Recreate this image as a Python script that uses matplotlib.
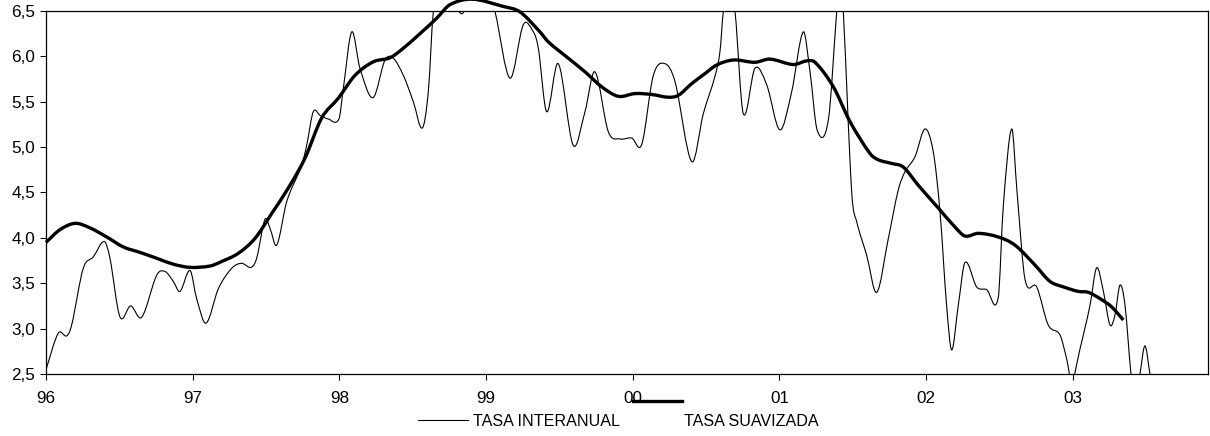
import matplotlib
matplotlib.use("Agg")
import matplotlib.pyplot as plt
from matplotlib.lines import Line2D
from matplotlib.path import Path
from matplotlib.patches import PathPatch

plt.rcParams['font.family'] = ['Liberation Sans', 'DejaVu Sans']

# x positions in years since start of 1996
interanual_x = [0.000, 0.084, 0.141, 0.175, 0.254, 0.322, 0.397, 0.436, 0.504, 0.577,
                0.652, 0.755, 0.811, 0.868, 0.913, 0.982, 1.027, 1.091, 1.175, 1.266,
                1.334, 1.397, 1.436, 1.493, 1.527, 1.573, 1.641, 1.743, 1.777, 1.822,
                1.868, 1.924, 1.997, 2.027, 2.084, 2.140, 2.229, 2.311, 2.367, 2.436,
                2.504, 2.565, 2.606, 2.640, 2.686, 2.733, 2.788, 2.834, 2.876, 2.945,
                3.013, 3.061, 3.163, 3.254, 3.322, 3.356, 3.413, 3.492, 3.594, 3.674,
                3.742, 3.833, 3.913, 3.993, 4.061, 4.140, 4.219, 4.288, 4.402, 4.481,
                4.560, 4.594, 4.617, 4.656, 4.697, 4.753, 4.833, 4.913, 5.003, 5.083,
                5.162, 5.208, 5.258, 5.333, 5.390, 5.413, 5.435, 5.492, 5.526, 5.594,
                5.663, 5.742, 5.810, 5.856, 5.924, 5.992, 6.048, 6.094, 6.139, 6.174,
                6.219, 6.265, 6.344, 6.412, 6.491, 6.526, 6.583, 6.619, 6.674, 6.753,
                6.832, 6.912, 6.957, 6.992, 7.049, 7.117, 7.162, 7.208, 7.253, 7.287,
                7.321, 7.355, 7.396, 7.423, 7.457, 7.491, 7.525, 7.553]
interanual_y = [2.55, 2.95, 2.92, 3.04, 3.665, 3.79, 3.96, 3.775, 3.13, 3.25,
                3.125, 3.59, 3.63, 3.52, 3.41, 3.64, 3.33, 3.06, 3.44, 3.665,
                3.72, 3.675, 3.775, 4.205, 4.105, 3.92, 4.40, 4.80, 5.02, 5.39,
                5.35, 5.31, 5.31, 5.65, 6.27, 5.87, 5.545, 5.96, 5.98, 5.79,
                5.50, 5.21, 5.61, 6.49, 6.90, 7.00, 6.60, 6.47, 6.60, 6.90,
                6.70, 6.49, 5.76, 6.35, 6.27, 6.09, 5.39, 5.92, 5.02, 5.39,
                5.83, 5.17, 5.09, 5.10, 5.03, 5.79, 5.92, 5.72, 4.84, 5.37,
                5.78, 6.05, 6.49, 6.80, 6.49, 5.37, 5.87, 5.685, 5.19, 5.61,
                6.27, 5.83, 5.18, 5.30, 6.49, 6.90, 6.49, 4.51, 4.18, 3.81,
                3.40, 3.995, 4.53, 4.73, 4.895, 5.20, 4.95, 4.29, 3.26, 2.765,
                3.26, 3.73, 3.46, 3.43, 3.34, 4.36, 5.20, 4.51, 3.54, 3.46,
                3.04, 2.93, 2.67, 2.42, 2.78, 3.26, 3.67, 3.41, 3.04, 3.15,
                3.48, 3.26, 2.50, 2.20, 2.50, 2.81, 2.50, 2.20]

suavizada_x = [0.000, 0.095, 0.198, 0.300, 0.414, 0.527, 0.641, 0.755, 0.868, 0.982,
               1.118, 1.198, 1.311, 1.425, 1.539, 1.652, 1.766, 1.879, 1.993, 2.106,
               2.231, 2.345, 2.436, 2.549, 2.663, 2.754, 2.904, 3.117, 3.231, 3.367,
               3.424, 3.560, 3.674, 3.788, 3.901, 4.015, 4.129, 4.242, 4.310, 4.402,
               4.492, 4.572, 4.685, 4.833, 4.935, 5.094, 5.185, 5.242, 5.367, 5.481,
               5.617, 5.674, 5.765, 5.844, 5.946, 6.082, 6.196, 6.265, 6.355, 6.491,
               6.605, 6.742, 6.844, 6.935, 7.037, 7.105, 7.185, 7.264, 7.344]
suavizada_y = [3.95, 4.09, 4.16, 4.11, 4.01, 3.90, 3.84, 3.775, 3.71, 3.675,
               3.69, 3.74, 3.83, 3.995, 4.27, 4.55, 4.88, 5.32, 5.54, 5.79,
               5.94, 5.985, 6.09, 6.25, 6.42, 6.57, 6.63, 6.55, 6.49, 6.27,
               6.16, 5.98, 5.83, 5.665, 5.56, 5.59, 5.58, 5.55, 5.57, 5.70,
               5.81, 5.905, 5.96, 5.935, 5.97, 5.91, 5.95, 5.935, 5.665, 5.28,
               4.93, 4.86, 4.82, 4.78, 4.58, 4.33, 4.12, 4.02, 4.05, 4.01,
               3.92, 3.70, 3.52, 3.46, 3.41, 3.40, 3.33, 3.24, 3.095]

year_ticks = [0, 1, 2, 3, 4, 5, 6, 7]
year_labels = ['96', '97', '98', '99', '00', '01', '02', '03']
y_ticks = [2.5, 3.0, 3.5, 4.0, 4.5, 5.0, 5.5, 6.0, 6.5]
y_labels = ['2,5', '3,0', '3,5', '4,0', '4,5', '5,0', '5,5', '6,0', '6,5']
legend_labels = ['TASA INTERANUAL', 'TASA SUAVIZADA']


def smooth_path(xs, ys):
    """Smoothed line (like a spreadsheet 'smoothed line') through the data points."""
    n = len(xs)
    slopes = []
    for i in range(n):
        a = max(i - 1, 0)
        b = min(i + 1, n - 1)
        slopes.append((ys[b] - ys[a]) / (xs[b] - xs[a]))
    verts = [(xs[0], ys[0])]
    codes = [Path.MOVETO]
    for i in range(n - 1):
        h = xs[i + 1] - xs[i]
        verts.append((xs[i] + h / 3, ys[i] + slopes[i] * h / 3))
        verts.append((xs[i + 1] - h / 3, ys[i + 1] - slopes[i + 1] * h / 3))
        verts.append((xs[i + 1], ys[i + 1]))
        codes += [Path.CURVE4] * 3
    return Path(verts, codes)


W, H = 1210, 436
fig = plt.figure(figsize=(W / 100, H / 100), dpi=100)
ax = fig.add_axes([46 / W, 62 / H, 1162 / W, 363 / H])

ax.add_patch(PathPatch(smooth_path(interanual_x, interanual_y), fill=False,
                       edgecolor='black', lw=0.8))
ax.add_patch(PathPatch(smooth_path(suavizada_x, suavizada_y), fill=False,
                       edgecolor='black', lw=2.4, clip_on=False, joinstyle='round',
                       capstyle='butt'))

ax.set_xlim(0, 7.921)
ax.set_ylim(2.5, 6.5)
ax.set_xticks(year_ticks)
ax.set_xticklabels(year_labels)
ax.set_yticks(y_ticks)
ax.set_yticklabels(y_labels)
ax.tick_params(axis='both', direction='out', length=4.5, width=0.75,
               labelsize=12.3, colors='black')
ax.tick_params(axis='x', pad=7.5)
ax.tick_params(axis='y', pad=3.5)
for s in ax.spines.values():
    s.set_linewidth(0.9)
    s.set_color('black')


def fy(y):
    return 1 - y / H


# legend drawn below the axes
fig.add_artist(Line2D([418 / W, 468 / W], [fy(420), fy(420)], color='black', lw=0.8,
                      transform=fig.transFigure))
fig.text(473 / W, fy(421), legend_labels[0], fontsize=11.6, va='center', ha='left')
fig.add_artist(Line2D([633 / W, 682 / W], [fy(401), fy(401)], color='black', lw=2.4,
                      transform=fig.transFigure))
fig.text(684 / W, fy(421), legend_labels[1], fontsize=11.6, va='center', ha='left')

fig.savefig('out.png', dpi=100)
